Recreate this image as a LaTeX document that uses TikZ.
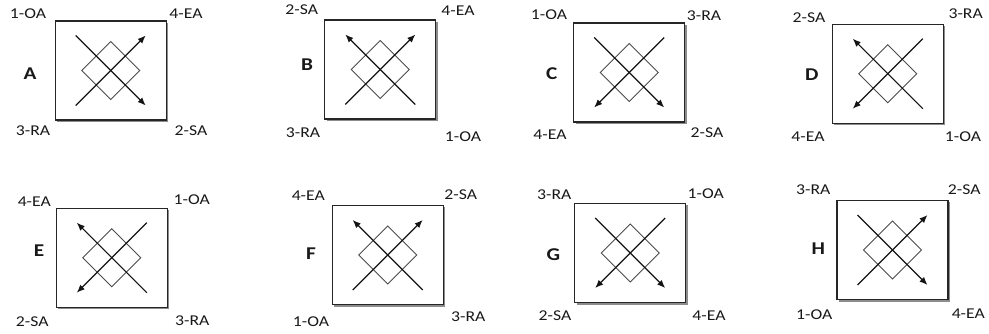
\documentclass[tikz,border=0pt]{standalone}
\usepackage{fontspec}
\setmainfont{Carlito}[FakeStretch=1.18]
\usetikzlibrary{arrows.meta}
\tikzset{
  lbl/.style={inner sep=0pt, font=\fontsize{15}{17}\selectfont, text=black!90},
  letter/.style={inner sep=0pt, font=\fontsize{18}{20}\selectfont\bfseries, text=black!90},
  boxst/.style={draw=black!85, line width=1.1pt, fill=white, minimum width=111pt, minimum height=99pt, inner sep=0pt},
  shadowc/.style={fill=black!45},
  xline/.style={line width=1.2pt, draw=black!92},
  diamline/.style={line width=0.9pt, draw=black!70},
  >={Latex[length=8pt,width=6.5pt]}
}
\newcommand\xpanel[5]{%
  \begin{scope}[shift={(#2,#3)}]
    \fill[shadowc] (-53.5,-47.5) rectangle (57.5,51.5);
    \node[boxst] (#1box) at (0,0) {};
    \draw[diamline] (0,-29) -- (29,0) -- (0,29) -- (-29,0) -- cycle;
    \coordinate (#1nw) at (-35,-35);
    \coordinate (#1se) at (35,35);
    \coordinate (#1sw) at (-35,35);
    \coordinate (#1ne) at (35,-35);
    \draw[xline,#4] (#1nw) -- (#1se);
    \draw[xline,#5] (#1sw) -- (#1ne);
  \end{scope}}
\begin{document}
\begin{tikzpicture}[x=1pt,y=-1pt]
\useasboundingbox[fill=white] (0,0) rectangle (989,334);
% Row 1
\xpanel{A}{110.7}{70.5}{->}{->}
\node[lbl] (A1) at (28,14) {1-OA};
\node[lbl] (A4) at (186,14) {4-EA};
\node[lbl] (A3) at (33,131) {3-RA};
\node[lbl] (A2) at (191,131) {2-SA};
\node[letter] (AL) at (30,74) {A};

\xpanel{B}{380.3}{69.5}{<-}{->}
\node[lbl] (B2) at (301.7,10) {2-SA};
\node[lbl] (B4) at (458,11) {4-EA};
\node[lbl] (B3) at (303,133) {3-RA};
\node[lbl] (B1) at (463,137) {1-OA};
\node[letter] (BL) at (307,65) {B};

\xpanel{C}{629.2}{72.5}{->}{<-}
\node[lbl] (C1) at (549,15) {1-OA};
\node[lbl] (C3) at (704,16) {3-RA};
\node[lbl] (C4) at (550,135) {4-EA};
\node[lbl] (C2) at (707,133) {2-SA};
\node[letter] (CL) at (551.7,74) {C};

\xpanel{D}{887.8}{73.7}{<-}{<-}
\node[lbl] (D2) at (809,18) {2-SA};
\node[lbl] (D3) at (965.7,13.3) {3-RA};
\node[lbl] (D4) at (808,137) {4-EA};
\node[lbl] (D1) at (963,137) {1-OA};
\node[letter] (DL) at (811.7,75) {D};

% Row 2
\xpanel{E}{111.8}{257.7}{<-}{<-}
\node[lbl] (E4) at (34.3,201.7) {4-EA};
\node[lbl] (E1) at (191.7,200) {1-OA};
\node[lbl] (E2) at (32.3,321.7) {2-SA};
\node[lbl] (E3) at (192.3,320.7) {3-RA};
\node[letter] (EL) at (39,251) {E};

\xpanel{F}{387.7}{255}{<-}{->}
\node[lbl] (F4) at (308.3,196) {4-EA};
\node[lbl] (F2) at (460.7,195) {2-SA};
\node[lbl] (F1) at (311,321.7) {1-OA};
\node[lbl] (F3) at (468.3,316.7) {3-RA};
\node[letter] (FL) at (311,253.3) {F};

\xpanel{G}{630.2}{253}{->}{<-}
\node[lbl] (G3) at (554.3,195) {3-RA};
\node[lbl] (G1) at (705.7,194) {1-OA};
\node[lbl] (G2) at (555,316) {2-SA};
\node[lbl] (G4) at (709,316) {4-EA};
\node[letter] (GL) at (553.3,254.3) {G};

\xpanel{H}{892.5}{250}{->}{->}
\node[lbl] (H3) at (813.3,189.3) {3-RA};
\node[lbl] (H2) at (964.3,190) {2-SA};
\node[lbl] (H1) at (814.3,315) {1-OA};
\node[lbl] (H4) at (968.3,313.3) {4-EA};
\node[letter] (HL) at (818.3,248.3) {H};
\end{tikzpicture}
\end{document}
